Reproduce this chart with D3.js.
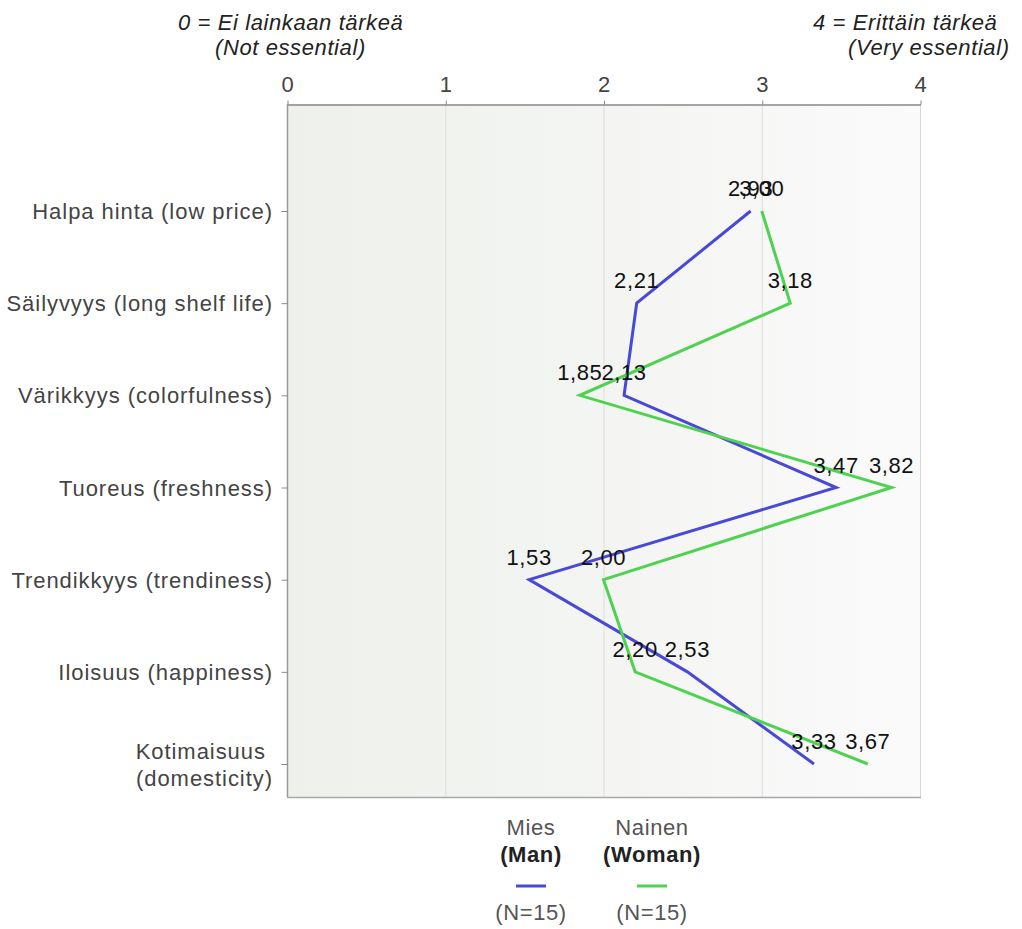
<!DOCTYPE html>
<html>
<head>
<meta charset="utf-8">
<script src="https://cdn.jsdelivr.net/npm/d3@7/dist/d3.min.js"></script>
<style>
  html, body { margin: 0; padding: 0; background: #fff; }
  svg text { font-family: "Liberation Sans", Arial, sans-serif; letter-spacing: 0.6px; }
  svg .cat text { letter-spacing: 0.95px; }
</style>
</head>
<body>
<svg id="chart" width="1022" height="929"></svg>
<script>
// Importance ratings (0–4) of product attributes, by gender
const categories = [
  "Halpa hinta (low price)",
  "Säilyvyys (long shelf life)",
  "Värikkyys (colorfulness)",
  "Tuoreus (freshness)",
  "Trendikkyys (trendiness)",
  "Iloisuus (happiness)",
  "Kotimaisuus \n(domesticity)"
];
const mies   = [2.93, 2.21, 2.13, 3.47, 1.53, 2.53, 3.33];
const nainen = [3.00, 3.18, 1.85, 3.82, 2.00, 2.20, 3.67];
const xTicks = [0, 1, 2, 3, 4];

const seriesNames = ["Mies", "Nainen"];
const seriesSub   = ["(Man)", "(Woman)"];
const seriesN     = ["(N=15)", "(N=15)"];
const seriesColor = ["#4949d8", "#4fd24f"];

const svg = d3.select("#chart");
const plotLeft = 287, plotRight = 920, plotTop = 104, plotBottom = 797;

const x = d3.scaleLinear().domain([0, 4]).range([plotLeft, plotRight]);
const y = d3.scalePoint().domain(categories).range([211, 764]);

// plot background with a soft horizontal gradient
const defs = svg.append("defs");
const grad = defs.append("linearGradient").attr("id", "bg")
  .attr("x1", "0%").attr("x2", "100%").attr("y1", "0%").attr("y2", "0%");
grad.append("stop").attr("offset", "0%").attr("stop-color", "#edf0eb");
grad.append("stop").attr("offset", "100%").attr("stop-color", "#fafafa");

svg.append("rect")
  .attr("x", plotLeft).attr("y", plotTop)
  .attr("width", plotRight - plotLeft).attr("height", plotBottom - plotTop)
  .attr("fill", "url(#bg)");

// vertical grid lines
svg.append("g").selectAll("line")
  .data(xTicks.filter(d => d > 0 && d < 4))
  .join("line")
  .attr("x1", d => x(d) + 0.5).attr("x2", d => x(d) + 0.5)
  .attr("y1", plotTop).attr("y2", plotBottom)
  .attr("stroke", "#dddddd").attr("stroke-width", 1);

// frame
svg.append("line").attr("x1", plotRight + 0.5).attr("x2", plotRight + 0.5)
  .attr("y1", plotTop).attr("y2", plotBottom).attr("stroke", "#d8d8d8");
svg.append("line").attr("x1", plotLeft).attr("x2", plotRight + 1)
  .attr("y1", plotBottom + 0.5).attr("y2", plotBottom + 0.5).attr("stroke", "#a8a8a8").attr("stroke-width", 1.5);

// top value axis
const xAxis = svg.append("g")
  .attr("transform", `translate(0.5,${plotTop + 0.5})`)
  .call(d3.axisTop(x).tickValues(xTicks).tickSize(4).tickSizeOuter(0).tickPadding(9).tickFormat(d3.format("d")));
xAxis.select(".domain").attr("stroke", "#888").attr("stroke-width", 1.5);
xAxis.selectAll(".tick line").attr("stroke", "#888");
xAxis.selectAll(".tick text")
  .attr("fill", "#444").attr("font-size", "22px")
  .style("font-family", "'Liberation Sans', Arial, sans-serif");

// left category axis
const yAxis = svg.append("g")
  .attr("transform", `translate(${plotLeft + 0.5},0)`)
  .call(d3.axisLeft(y).tickSize(6).tickSizeOuter(0).tickPadding(8).tickFormat(""));
yAxis.select(".domain").attr("stroke", "#999").attr("stroke-width", 1.5)
  .attr("d", `M0,${plotTop}V${plotBottom}`);
yAxis.selectAll(".tick line").attr("stroke", "#888");

const catLabels = svg.append("g").attr("class", "cat")
  .attr("fill", "#444").attr("font-size", "22px")
  .attr("text-anchor", "end");
categories.forEach(c => {
  const lines = c.split("\n");
  const t = catLabels.append("text")
    .attr("x", 273)
    .attr("y", y(c) + 8 - (lines.length - 1) * 13)
    .style("white-space", "pre");
  lines.forEach((ln, i) => {
    t.append("tspan").attr("x", 273).attr("dy", i === 0 ? 0 : 27).text(ln);
  });
});

// scale end captions
const caption = svg.append("g").attr("font-size", "22px").attr("font-style", "italic")
  .attr("fill", "#222");
caption.append("text").attr("x", 178).attr("y", 30).text("0 = Ei lainkaan tärkeä");
caption.append("text").attr("x", 215).attr("y", 55).text("(Not essential)");
caption.append("text").attr("x", 813).attr("y", 30).text("4 = Erittäin tärkeä");
caption.append("text").attr("x", 848).attr("y", 55).text("(Very essential)");

// series lines
const series = [mies, nainen];
const line = d3.line()
  .x(d => x(d.v))
  .y(d => y(d.c));

series.forEach((vals, i) => {
  const pts = vals.map((v, k) => ({ v, c: categories[k] }));
  svg.append("path")
    .datum(pts)
    .attr("d", line)
    .attr("fill", "none")
    .attr("stroke", seriesColor[i])
    .attr("stroke-width", 3)
    .attr("stroke-linejoin", "miter");
});

// value labels above each point
const fmt = v => d3.format(".2f")(v).replace(".", ",");
series.forEach((vals, i) => {
  svg.append("g").selectAll("text")
    .data(vals.map((v, k) => ({ v, c: categories[k] })))
    .join("text")
    .attr("x", d => x(d.v))
    .attr("y", d => y(d.c) - 15)
    .attr("text-anchor", "middle")
    .attr("font-size", "22px")
    .attr("fill", "#111")
    .text(d => fmt(d.v));
});

// legend
const legendX = [531, 652];
const legend = svg.append("g").attr("text-anchor", "middle").attr("font-size", "22px");
seriesNames.forEach((name, i) => {
  const cx = legendX[i];
  legend.append("text").attr("x", cx).attr("y", 835).attr("fill", "#555").text(name);
  legend.append("text").attr("x", cx).attr("y", 862).attr("fill", "#222")
    .attr("font-weight", "bold").text(seriesSub[i]);
  legend.append("line")
    .attr("x1", cx - 15).attr("x2", cx + 15)
    .attr("y1", 886).attr("y2", 886)
    .attr("stroke", seriesColor[i]).attr("stroke-width", 3);
  legend.append("text").attr("x", cx).attr("y", 920).attr("fill", "#555").text(seriesN[i]);
});
</script>
</body>
</html>
